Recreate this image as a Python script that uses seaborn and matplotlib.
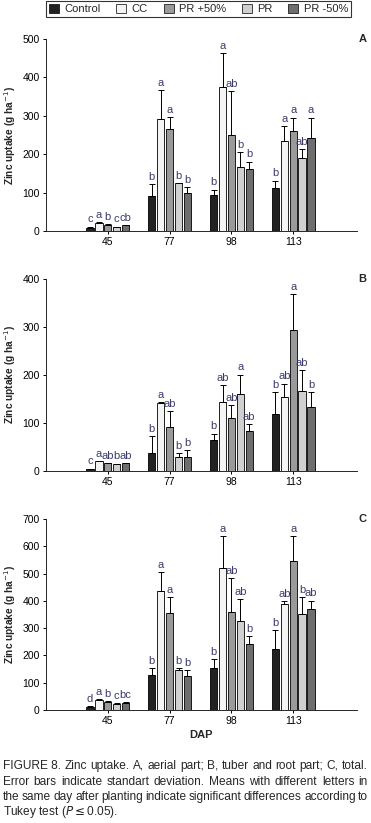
import pandas as pd
import numpy as np
import matplotlib
matplotlib.use('Agg')
import matplotlib.pyplot as plt
import seaborn as sns
from matplotlib.patches import Patch

days = ['45', '77', '98', '113']
treatments = ['Control', 'CC', 'PR +50%', 'PR', 'PR -50%']
colors = ['#222222', '#f4f4f4', '#9a9a9a', '#d0d0d0', '#6e6e6e']

# panel A, aerial part (rows = treatment, cols = DAP)
aerial_mean = [[8, 91, 94, 112],
               [22, 293, 374, 234],
               [15, 266, 249, 260],
               [10, 124, 168, 189],
               [15, 99, 161, 242]]
aerial_sd = [[3, 31, 14, 19],
             [1, 73, 89, 39],
             [3, 30, 115, 35],
             [1, 1, 37, 24],
             [1, 16, 20, 53]]
aerial_letters = [['c', 'b', 'b', 'b'],
                  ['a', 'a', 'a', 'a'],
                  ['b', 'a', 'ab', 'a'],
                  ['c', 'b', 'b', 'ab'],
                  ['cb', 'b', 'b', 'a']]

# panel B, tuber and root part
tuber_mean = [[4, 38, 65, 119],
              [20, 142, 144, 155],
              [16, 92, 110, 293],
              [14, 29, 160, 167],
              [16, 29, 83, 133]]
tuber_sd = [[1, 34, 13, 45],
            [1, 1, 35, 27],
            [1, 32, 27, 76],
            [1, 8, 41, 43],
            [1, 14, 14, 31]]
tuber_letters = [['c', 'b', 'b', 'b'],
                 ['a', 'a', 'ab', 'ab'],
                 ['ab', 'ab', 'ab', 'a'],
                 ['b', 'b', 'a', 'ab'],
                 ['ab', 'b', 'ab', 'b']]

# panel C, total
total_mean = [[12, 128, 154, 224],
              [37, 436, 519, 387],
              [29, 355, 358, 546],
              [22, 147, 326, 351],
              [26, 125, 242, 369]]
total_sd = [[2, 25, 32, 68],
            [2, 69, 117, 11],
            [3, 58, 124, 90],
            [2, 6, 79, 62],
            [2, 20, 29, 32]]
total_letters = [['d', 'b', 'b', 'b'],
                 ['a', 'a', 'a', 'ab'],
                 ['b', 'a', 'ab', 'a'],
                 ['c', 'b', 'ab', 'b'],
                 ['bc', 'b', 'b', 'ab']]

panels = [('A', aerial_mean, aerial_sd, aerial_letters, 500),
          ('B', tuber_mean, tuber_sd, tuber_letters, 400),
          ('C', total_mean, total_sd, total_letters, 700)]

sns.set_style('ticks')
font_list = ['Liberation Sans Narrow', 'Liberation Sans', 'DejaVu Sans']
plt.rcParams['font.family'] = font_list

fig = plt.figure(figsize=(3.71, 8.23), dpi=100)
boxes = [[0.124, 0.7193, 0.838, 0.2333],
         [0.124, 0.4277, 0.838, 0.2333],
         [0.124, 0.1373, 0.838, 0.2321]]
letter_color = '#3b3b6e'

for (tag, means, sds, letters, ymax), box in zip(panels, boxes):
    ax = fig.add_axes(box)
    rows = []
    for t, trt in enumerate(treatments):
        for d, day in enumerate(days):
            rows.append({'DAP': day, 'Treatment': trt, 'Zinc': means[t][d]})
    df = pd.DataFrame(rows)
    sns.barplot(data=df, x='DAP', y='Zinc', hue='Treatment', order=days,
                hue_order=treatments, palette=colors, edgecolor='black',
                linewidth=0.6, width=0.72, gap=0.18, errorbar=None,
                legend=False, ax=ax)
    bar_conts = list(ax.containers)
    for t, cont in enumerate(bar_conts):
        for d, bar in enumerate(cont.patches):
            xc = bar.get_x() + bar.get_width() / 2
            top = means[t][d] + sds[t][d]
            ax.errorbar(xc, means[t][d], yerr=[[0], [sds[t][d]]], fmt='none',
                        ecolor='black', elinewidth=0.7, capsize=2.2,
                        capthick=0.7, zorder=3)
            ax.text(xc, top + ymax * 0.012, letters[t][d], ha='center',
                    va='bottom', fontsize=8, color=letter_color)
    ax.set_xlim(-1, 4.03)
    ax.set_ylim(0, ymax)
    ax.set_yticks(range(0, ymax + 1, 100))
    sns.despine(ax=ax)
    ax.tick_params(axis='both', labelsize=7.5, length=2.5, width=0.7,
                   colors='black', pad=2)
    for sp in ax.spines.values():
        sp.set_linewidth(0.7)
    ax.set_ylabel('Zinc uptake (g ha$^{-1}$)', fontsize=7.3, fontweight='bold',
                  labelpad=3)
    ax.set_xlabel('DAP' if tag == 'C' else '', fontsize=8,
                  fontweight='bold', labelpad=3)
    ax.text(1.005, 1.0, tag, transform=ax.transAxes, ha='left', va='center',
            fontsize=8, fontweight='bold')

handles = [Patch(facecolor=c, edgecolor='black', linewidth=0.5) for c in colors]
leg = fig.legend(handles, treatments, loc='upper left', ncol=5,
                 bbox_to_anchor=(0.124, 0.977, 0.822, 0.022), mode='expand',
                 fontsize=8, frameon=True, fancybox=False, edgecolor='black',
                 handlelength=0.9, handleheight=0.9, handletextpad=0.5,
                 borderpad=0.25, columnspacing=1.0, borderaxespad=0)
leg.get_frame().set_linewidth(0.8)

# caption, justified by hand
caption = [
    'FIGURE 8. Zinc uptake. A, aerial part; B, tuber and root part; C, total.'.split(),
    'Error bars indicate standart deviation. Means with different letters in'.split(),
    'the same day after planting indicate significant differences according to'.split(),
]
caption[0] = ['FIGURE 8.'] + caption[0][2:]
renderer = fig.canvas.get_renderer()
x0, x1 = 3 / 371, 368 / 371
line_y = [1 - 766 / 823, 1 - 782 / 823, 1 - 797 / 823]
for words, yy in zip(caption, line_y):
    texts = [fig.text(0, yy, w, fontsize=8.6, va='center', ha='left')
             for w in words]
    widths = [t.get_window_extent(renderer).width / fig.bbox.width for t in texts]
    gap = (x1 - x0 - sum(widths)) / (len(texts) - 1)
    pos = x0
    for t, w in zip(texts, widths):
        t.set_x(pos)
        pos += w + gap
fig.text(x0, 1 - 812 / 823, r'Tukey test ($\it{P}$$\leq$0.05).', fontsize=8.6,
         va='center', ha='left')

fig.savefig('out.png', dpi=100)
